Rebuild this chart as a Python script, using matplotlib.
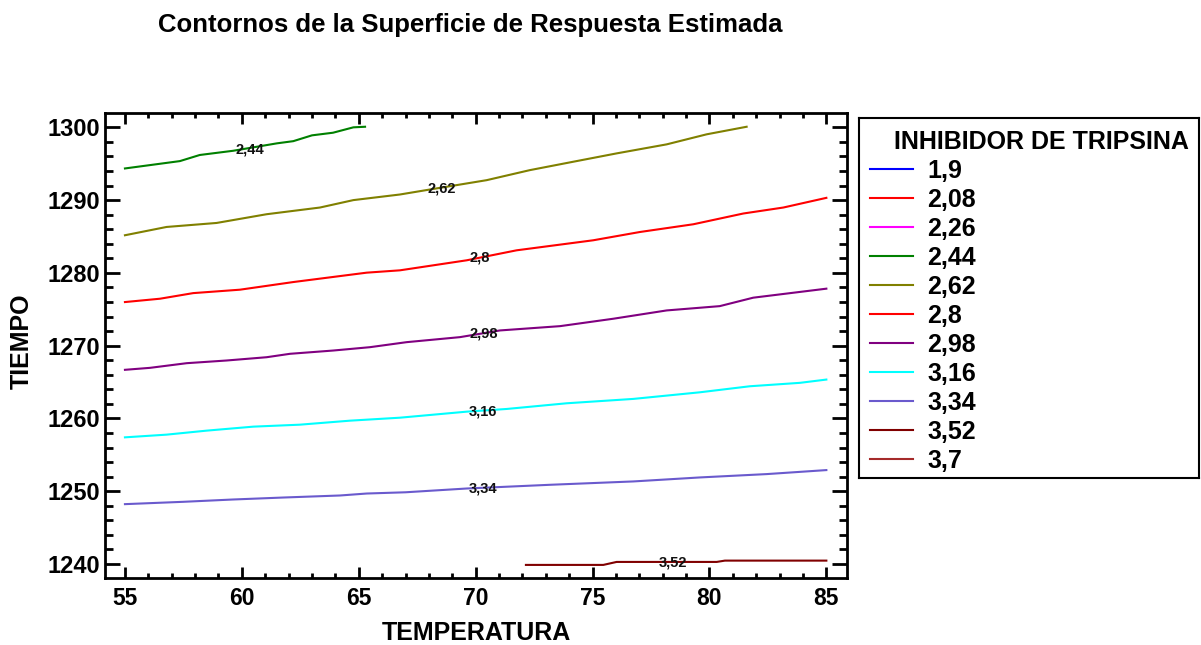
import matplotlib
matplotlib.use("Agg")
import matplotlib.pyplot as plt
from matplotlib.ticker import MultipleLocator

plt.rcParams['font.family'] = ['Liberation Sans', 'DejaVu Sans']

# contour levels shown in the legend
levels = ['1,9', '2,08', '2,26', '2,44', '2,62', '2,8', '2,98', '3,16', '3,34', '3,52', '3,7']
level_colors = ['#0000ff', '#ff0000', '#ff00ff', '#008000', '#808000', '#ff0000',
                '#800080', '#00ffff', '#6a5acd', '#800000', '#a52a2a']

# contour lines (TEMPERATURA, TIEMPO)
x_244 = [55.0, 57.35, 58.2, 59.63, 61.5, 62.2, 63.0, 63.9, 64.77, 65.27]
y_244 = [1294.35, 1295.36, 1296.2, 1296.78, 1297.8, 1298.1, 1298.9, 1299.26, 1300.0, 1300.08]

x_262 = [55.0, 56.78, 58.92, 61.06, 63.34, 64.77, 66.76, 68.05, 70.47, 72.32, 74.17, 76.03, 78.17, 79.88, 81.59]
y_262 = [1285.17, 1286.31, 1286.86, 1288.06, 1288.98, 1290.0, 1290.77, 1291.46, 1292.74, 1294.12,
         1295.27, 1296.42, 1297.66, 1299.04, 1300.08]

x_280 = [55.0, 56.5, 57.92, 59.92, 62.2, 65.34, 66.76, 69.62, 71.75, 75.03, 77.03, 79.31, 81.45, 83.16, 85.0]
y_280 = [1275.99, 1276.45, 1277.22, 1277.69, 1278.74, 1280.03, 1280.35, 1281.73, 1283.1, 1284.48,
         1285.62, 1286.68, 1288.16, 1288.98, 1290.31]

x_298 = [55.0, 56.07, 57.64, 59.35, 61.06, 62.06, 63.91, 65.48, 67.05, 69.33, 71.04, 73.61, 75.89,
         78.17, 80.44, 81.87, 85.0]
y_298 = [1266.68, 1266.95, 1267.59, 1267.96, 1268.41, 1268.88, 1269.33, 1269.79, 1270.48, 1271.17,
         1272.09, 1272.68, 1273.7, 1274.84, 1275.43, 1276.59, 1277.83]

x_316 = [55.0, 56.78, 58.49, 60.49, 62.48, 64.62, 66.76, 69.62, 71.33, 73.89, 76.74, 79.59, 81.73, 83.87, 85.0]
y_316 = [1257.4, 1257.77, 1258.32, 1258.87, 1259.14, 1259.69, 1260.1, 1260.93, 1261.3, 1262.08,
         1262.68, 1263.59, 1264.42, 1264.89, 1265.34]

x_334 = [55.0, 57.49, 59.63, 61.77, 64.2, 65.34, 67.0, 69.62, 73.18, 76.74, 79.59, 82.45, 85.0]
y_334 = [1248.22, 1248.54, 1248.86, 1249.13, 1249.41, 1249.68, 1249.85, 1250.37, 1250.88, 1251.34,
         1251.89, 1252.35, 1252.9]

x_352 = [72.15, 75.46, 76.03, 80.31, 80.66, 85.0]
y_352 = [1239.87, 1239.87, 1240.28, 1240.28, 1240.46, 1240.46]

lines = [('2,44', x_244, y_244), ('2,62', x_262, y_262), ('2,8', x_280, y_280),
         ('2,98', x_298, y_298), ('3,16', x_316, y_316), ('3,34', x_334, y_334),
         ('3,52', x_352, y_352)]

# inline label positions
label_pos = {'2,44': (60.35, 1296.97), '2,62': (68.57, 1291.6), '2,8': (70.16, 1282.18),
             '2,98': (70.33, 1271.63), '3,16': (70.33, 1260.98), '3,34': (70.33, 1250.43),
             '3,52': (78.43, 1240.18)}

W, H = 1201, 645
fig = plt.figure(figsize=(W / 100, H / 100), dpi=100)
ax = fig.add_axes([105.3 / W, 1 - 578.3 / H, (846.7 - 105.3) / W, (578.3 - 113) / H])

for name, xs, ys in lines:
    c = level_colors[levels.index(name)]
    ax.plot(xs, ys, color=c, lw=1.5)
    lx, ly = label_pos[name]
    ax.text(lx, ly, name, fontsize=10.5, fontweight='bold', ha='center', va='center', color='#111111')

ax.set_xlim(54.16, 85.87)
ax.set_ylim(1238.03, 1301.97)
ax.xaxis.set_major_locator(MultipleLocator(5))
ax.xaxis.set_minor_locator(MultipleLocator(1))
ax.yaxis.set_major_locator(MultipleLocator(10))
ax.yaxis.set_minor_locator(MultipleLocator(2))
ax.tick_params(which='both', direction='in', top=True, right=True, width=2)
ax.tick_params(axis='x', which='major', length=7.7, labelsize=16.5, pad=6.5)
ax.tick_params(axis='x', which='minor', length=3.6)
ax.tick_params(axis='y', which='major', length=10.6, labelsize=17, pad=3.6)
ax.tick_params(axis='y', which='minor', length=5.5)
for lab in ax.get_xticklabels() + ax.get_yticklabels():
    lab.set_fontweight('bold')
for s in ax.spines.values():
    s.set_linewidth(2)

ax.set_xlabel('TEMPERATURA', fontsize=18, fontweight='bold')
ax.set_ylabel('TIEMPO', fontsize=18, fontweight='bold')
ax.xaxis.set_label_coords(0.5, (578.3 - 621) / (578.3 - 113))
ax.yaxis.set_label_coords((34 - 105.3) / (846.7 - 105.3), 0.51)

fig.text(470 / W, 1 - 31.7 / H, 'Contornos de la Superficie de Respuesta Estimada',
         fontsize=18.5, fontweight='bold', ha='center', va='baseline')

# legend box, drawn in pixel coordinates
lx0, lx1, ly0, ly1 = 859, 1199, 118.3, 477.7
lax = fig.add_axes([lx0 / W, 1 - ly1 / H, (lx1 - lx0) / W, (ly1 - ly0) / H])
lax.set_xlim(lx0, lx1)
lax.set_ylim(ly1, ly0)
lax.set_xticks([])
lax.set_yticks([])
for s in lax.spines.values():
    s.set_linewidth(1.5)
lax.text(1041.7, 149, 'INHIBIDOR DE TRIPSINA', fontsize=18, fontweight='bold',
         ha='center', va='baseline')
for i, (name, c) in enumerate(zip(levels, level_colors)):
    yy = 169.3 + 29 * i
    lax.plot([870, 913], [yy, yy], color=c, lw=1.5)
    lax.text(927, yy + 8.9, name, fontsize=18, fontweight='bold', ha='left', va='baseline')

fig.savefig('out.png', dpi=100)
